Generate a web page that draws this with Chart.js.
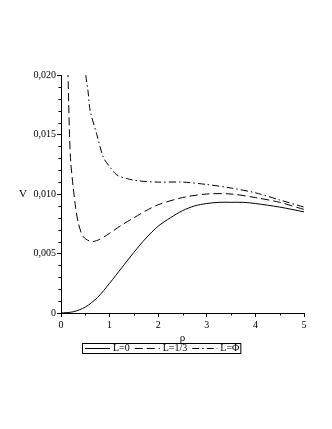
<!DOCTYPE html>
<html>
<head>
<meta charset="utf-8">
<script src="https://cdn.jsdelivr.net/npm/chart.js@4"></script>
<style>
  html, body { margin: 0; padding: 0; background: #fff; }
  canvas { display: block; }
</style>
</head>
<body>
<canvas id="c" width="332" height="429"></canvas>
<script>
// curve data
const seriesLabels = ['L=0', 'L=1/3', 'L=\u03A6'];

const rhoL0 = [0, 0.25, 0.5, 0.75, 1.0, 1.25, 1.5, 1.75, 2.0, 2.25, 2.5, 2.75, 3.0, 3.25, 3.5, 3.75, 4.0, 4.5, 5.0];
const vL0   = [0, 0.0001, 0.0005, 0.0013, 0.0025, 0.0038, 0.0051, 0.0063, 0.0073, 0.0080, 0.0086, 0.0090, 0.0092, 0.0093, 0.0093, 0.0093, 0.0092, 0.0089, 0.0085];

const rhoL13 = [0.13, 0.15, 0.175, 0.2, 0.25, 0.3, 0.36, 0.46, 0.63, 0.8, 1.0, 1.25, 1.5, 1.75, 2.0, 2.5, 3.0, 3.5, 4.0, 4.5, 5.0];
const vL13   = [0.0225, 0.0190, 0.0150, 0.0127, 0.0106, 0.0089, 0.0075, 0.0064, 0.0060, 0.0062, 0.0067, 0.0074, 0.0080, 0.0086, 0.0091, 0.0097, 0.0100, 0.0100, 0.0097, 0.0093, 0.0087];

const rhoPhi = [0.49, 0.51, 0.56, 0.6, 0.73, 0.87, 1.0, 1.15, 1.35, 1.6, 2.0, 2.5, 3.0, 3.5, 4.0, 4.5, 5.0];
const vPhi   = [0.0212, 0.0200, 0.0185, 0.0170, 0.0151, 0.0131, 0.0123, 0.0116, 0.0113, 0.0111, 0.0110, 0.0110, 0.0108, 0.0105, 0.0101, 0.0095, 0.0089];

const xTicksMajor = [0, 1, 2, 3, 4, 5];
const yTicksMajor = [0, 0.005, 0.010, 0.015, 0.020];

const FONT = '"Liberation Serif", "DejaVu Serif", serif';

function pts(xs, ys) {
  return xs.map((x, i) => ({ x: x, y: ys[i] }));
}

function fmtY(v) {
  if (Math.abs(v) < 1e-9) return '0';
  return v.toFixed(3).replace('.', ',');
}

const dashes = [[], [8, 4], [7, 3, 1.5, 3]];

// minor ticks, axis names and the boxed legend
const extras = {
  id: 'extras',
  afterDraw(chart) {
    const ctx = chart.ctx;
    const xs = chart.scales.x, ys = chart.scales.y;
    const area = chart.chartArea;
    ctx.save();
    ctx.strokeStyle = '#000';
    ctx.lineWidth = 1;

    // minor ticks
    ctx.beginPath();
    for (let k = 1; k < 20; k++) {
      if (k % 5 === 0) continue;
      const py = Math.round(ys.getPixelForValue(k * 0.001)) + 0.5;
      ctx.moveTo(area.left - 2.5, py);
      ctx.lineTo(area.left, py);
    }
    for (let k = 1; k < 10; k += 2) {
      const px = Math.round(xs.getPixelForValue(k * 0.5)) + 0.5;
      ctx.moveTo(px, area.bottom);
      ctx.lineTo(px, area.bottom + 2.5);
    }
    ctx.stroke();

    // axis names
    ctx.fillStyle = '#000';
    ctx.font = '11px ' + FONT;
    ctx.textAlign = 'center';
    ctx.textBaseline = 'middle';
    ctx.fillText('V', 23, ys.getPixelForValue(0.010));
    ctx.fillText('\u03C1', (area.left + area.right) / 2, 338);

    // legend
    ctx.font = '10px ' + FONT;
    ctx.textAlign = 'left';
    const boxL = 82, boxT = 343, boxH = 10;
    let cx = boxL + 3;
    const midY = boxT + boxH / 2 + 0.5;
    chart.data.datasets.forEach((ds, i) => {
      ctx.beginPath();
      ctx.setLineDash(ds.borderDash || []);
      ctx.moveTo(cx, midY);
      ctx.lineTo(cx + 25, midY);
      ctx.stroke();
      ctx.setLineDash([]);
      cx += 28;
      ctx.fillText(ds.label, cx, midY);
      cx += ctx.measureText(ds.label).width + 5;
    });
    ctx.strokeRect(boxL + 0.5, boxT + 0.5, cx - boxL - 4, boxH);
    ctx.restore();
  }
};

new Chart(document.getElementById('c'), {
  type: 'line',
  data: {
    datasets: [
      { label: seriesLabels[0], data: pts(rhoL0, vL0) },
      { label: seriesLabels[1], data: pts(rhoL13, vL13) },
      { label: seriesLabels[2], data: pts(rhoPhi, vPhi) }
    ].map((d, i) => Object.assign(d, {
      borderColor: '#000',
      borderWidth: 1,
      borderDash: dashes[i],
      pointRadius: 0,
      fill: false,
      tension: 0.3
    }))
  },
  options: {
    responsive: false,
    animation: false,
    devicePixelRatio: 1,
    layout: { padding: { top: 75, right: 28, bottom: 0, left: 0 } },
    plugins: {
      legend: { display: false },
      tooltip: { enabled: false }
    },
    scales: {
      x: {
        type: 'linear',
        min: 0,
        max: 5,
        afterFit(s) { s.height = 116; },
        afterBuildTicks(s) { s.ticks = xTicksMajor.map(v => ({ value: v })); },
        ticks: {
          color: '#000',
          font: { family: FONT, size: 10 },
          padding: 2,
          maxRotation: 0,
          callback: v => String(v)
        },
        grid: { drawOnChartArea: false, drawTicks: true, tickLength: 4, color: '#000' },
        border: { display: true, color: '#000', width: 1 }
      },
      y: {
        type: 'linear',
        min: 0,
        max: 0.020,
        afterFit(s) { s.width = 61; },
        afterBuildTicks(s) { s.ticks = yTicksMajor.map(v => ({ value: v })); },
        ticks: {
          color: '#000',
          font: { family: FONT, size: 10 },
          padding: 1,
          callback: v => fmtY(v)
        },
        grid: { drawOnChartArea: false, drawTicks: true, tickLength: 4, color: '#000' },
        border: { display: true, color: '#000', width: 1 }
      }
    }
  },
  plugins: [extras]
});
</script>
</body>
</html>
